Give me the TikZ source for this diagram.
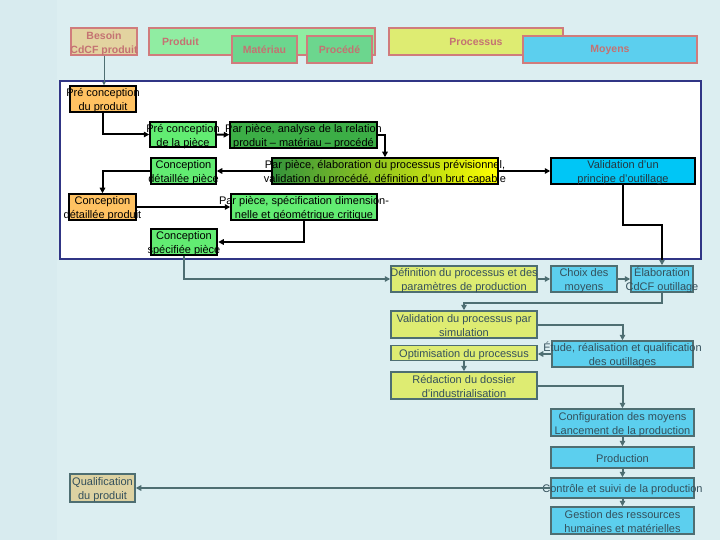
\documentclass[tikz,border=0pt]{standalone}
\usepackage{fontspec}
\setmainfont{Liberation Sans}
\usepackage{tikz}
\usetikzlibrary{arrows.meta}

\definecolor{fond}{HTML}{DCEEF1}
\definecolor{fondbord}{HTML}{D8EBEF}
\definecolor{cadrebleu}{HTML}{303585}
\definecolor{saumon}{HTML}{D07C7C}
\definecolor{texteentete}{HTML}{C47272}
\definecolor{beige}{HTML}{E3D3A0}
\definecolor{vertclair}{HTML}{90EDA2}
\definecolor{vertmoyen}{HTML}{6CD68E}
\definecolor{jaune}{HTML}{DEEC72}
\definecolor{bleuciel}{HTML}{5CCFEE}
\definecolor{orangeclair}{HTML}{FFC262}
\definecolor{vertvif}{HTML}{62EC72}
\definecolor{vertfonce}{HTML}{3CAE46}
\definecolor{bleuvif}{HTML}{00C6F6}
\definecolor{ardoise}{HTML}{4E6E72}
\definecolor{texteardoise}{HTML}{34505C}
\definecolor{sable}{HTML}{DDD2A2}

% text centred on the box, allowed to run over its edges
\newcommand{\etiq}[1]{\raisebox{-4.5pt}[0pt][0pt]{\makebox[0pt]{\begin{tabular}{@{}c@{}}#1\end{tabular}}}}

\tikzset{
  entete/.style={draw=saumon, line width=1.5pt, text=texteentete, inner sep=0pt,
    minimum height=27pt, font=\bfseries\fontsize{10.5}{14}\selectfont},
  etape/.style={draw=black, line width=1.5pt, inner sep=0pt, minimum height=26pt,
    font=\fontsize{11}{14}\selectfont},
  indus/.style={draw=ardoise, line width=1.5pt, text=texteardoise, inner sep=0pt,
    minimum height=26pt, font=\fontsize{11}{14}\selectfont},
  fleche/.style={->, line width=2pt},
  flechegrise/.style={->, line width=2pt, draw=ardoise},
}

\begin{document}
\begin{tikzpicture}[x=1pt, y=-1pt, >={Triangle[length=5.5pt,width=5.5pt]}]
  % Draw the background
  \fill[fond] (0,0) rectangle (720,540);
  \fill[fondbord] (0,0) rectangle (57,540);
  \useasboundingbox (0,0) rectangle (720,540);

  % Header boxes
  \node[entete, fill=beige, minimum width=66pt] (besoin) at (104,41.5) {\etiq{Besoin\\CdCF produit}};
  \node[entete, fill=vertclair, text width=200pt, inner xsep=13pt, align=left] (produit) at (262,41.5) {Produit};
  \node[entete, fill=vertmoyen, minimum width=65pt] (materiau) at (264.5,49.5) {Matériau};
  \node[entete, fill=vertmoyen, minimum width=65pt] (procede) at (339.5,49.5) {Procédé};
  \node[entete, fill=jaune, minimum width=174pt] (processus) at (476,41.5) {Processus};
  \node[entete, fill=bleuciel, minimum width=174pt] (moyens) at (610,49.5) {Moyens};

  % Design frame
  \node[draw=cadrebleu, line width=2.5pt, fill=white, minimum width=641pt,
    minimum height=178pt, inner sep=0pt] (cadre) at (380.5,170) {};

  % Design steps
  \node[etape, fill=orangeclair, minimum width=66pt] (prodpre) at (103,99) {\etiq{Pré conception\\du produit}};
  \node[etape, fill=vertvif, minimum width=66pt, minimum height=25pt] (piecepre) at (183,134.5) {\etiq{Pré conception\\de la pièce}};
  \node[etape, fill=vertfonce, minimum width=147pt] (relation) at (303.5,135) {\etiq{Par pièce, analyse de la relation\\produit -- matériau -- procédé}};
  \node[etape, fill=vertvif, minimum width=65pt] (piecedet) at (183.5,171) {\etiq{Conception\\détaillée pièce}};
  \node[etape, left color=vertfonce!85!black, right color=yellow, minimum width=226pt] (elaboration) at (385,171) {\etiq{Par pièce, élaboration du processus prévisionnel,\\validation du procédé, définition d'un brut capable}};
  \node[etape, fill=bleuvif, text=texteardoise!70!black, minimum width=144pt] (outillageval) at (623,171) {\etiq{Validation d'un\\principe d'outillage}};
  \node[etape, fill=orangeclair, minimum width=67pt] (proddet) at (102.5,207) {\etiq{Conception\\détaillée produit}};
  \node[etape, fill=vertvif, minimum width=146pt] (specification) at (304,207) {\etiq{Par pièce, spécification dimension-\\nelle et géométrique critique}};
  \node[etape, fill=vertvif, minimum width=66pt, line width=2.5pt] (piecespec) at (184,242) {\etiq{Conception\\spécifiée pièce}};

  % Industrialisation steps
  \node[indus, fill=jaune, minimum width=146pt] (definition) at (464,279) {\etiq{Définition du processus et des\\paramètres de production}};
  \node[indus, fill=bleuciel, minimum width=66pt] (choix) at (584,279) {\etiq{Choix des\\moyens}};
  \node[indus, fill=bleuciel, minimum width=62pt] (cdcfout) at (662,279) {\etiq{Élaboration\\CdCF outillage}};
  \node[indus, fill=jaune, minimum width=146pt, minimum height=27pt] (validation) at (464,324.5) {\etiq{Validation du processus par\\simulation}};
  \node[indus, fill=bleuciel, minimum width=141pt] (etude) at (622.5,354) {\etiq{Étude, réalisation et qualification\\des outillages}};
  \node[indus, fill=jaune, minimum width=146pt, minimum height=15pt] (optimisation) at (464,353) {\etiq{Optimisation du processus}};
  \node[indus, fill=jaune, minimum width=146pt, minimum height=27pt] (redaction) at (464,385.5) {\etiq{Rédaction du dossier\\d'industrialisation}};
  \node[indus, fill=bleuciel, minimum width=143pt, minimum height=27pt] (configuration) at (622.5,422.5) {\etiq{Configuration des moyens\\Lancement de la production}};
  \node[indus, fill=bleuciel, minimum width=143pt, minimum height=21pt] (production) at (622.5,457.5) {\etiq{Production}};
  \node[indus, fill=bleuciel, minimum width=143pt, minimum height=20pt] (controle) at (622.5,488) {\etiq{Contrôle et suivi de la production}};
  \node[indus, fill=bleuciel, minimum width=143pt, minimum height=27pt] (gestion) at (622.5,520.5) {\etiq{Gestion des ressources\\humaines et matérielles}};
  \node[indus, fill=sable, minimum width=65pt, minimum height=28pt] (qualification) at (102.5,488) {\etiq{Qualification\\du produit}};

  % Connectors
  \draw[-{Triangle[length=3pt,width=3pt]}, line width=0.8pt, ardoise] (besoin.south) -- (besoin.south |- prodpre.north);
  \draw[fleche] (prodpre.south) |- (piecepre.west);
  \draw[fleche] (piecepre) -- (relation);
  \draw[fleche] (relation.east) -| (elaboration.north);
  \draw[fleche] (elaboration) -- (piecedet);
  \draw[fleche] (piecedet.west) -| (proddet.north);
  \draw[fleche] (proddet) -- (specification);
  \draw[fleche] (specification.south) |- (piecespec.east);
  \draw[fleche] (elaboration) -- (outillageval);
  \draw[line width=2pt] (outillageval.south) -- ++(0,40) -| (cadre.south -| cdcfout.north);
  \draw[flechegrise] (cadre.south -| cdcfout.north) -- (cdcfout.north);
  \draw[flechegrise] (piecespec.south) |- (definition.west);
  \draw[flechegrise] (definition) -- (choix);
  \draw[flechegrise] (choix) -- (cdcfout);
  \draw[flechegrise] (cdcfout.south) -- ++(0,10) -| (validation.north);
  \draw[flechegrise] (validation.east) -| (etude.north);
  \draw[flechegrise] (etude.west) -- (etude.west -| optimisation.east);
  \draw[flechegrise] (optimisation) -- (redaction);
  \draw[flechegrise] (redaction.east) -| (configuration.north);
  \draw[flechegrise] (configuration) -- (production);
  \draw[flechegrise] (production) -- (controle);
  \draw[flechegrise] (controle) -- (gestion);
  \draw[flechegrise] (controle) -- (qualification);
\end{tikzpicture}
\end{document}
